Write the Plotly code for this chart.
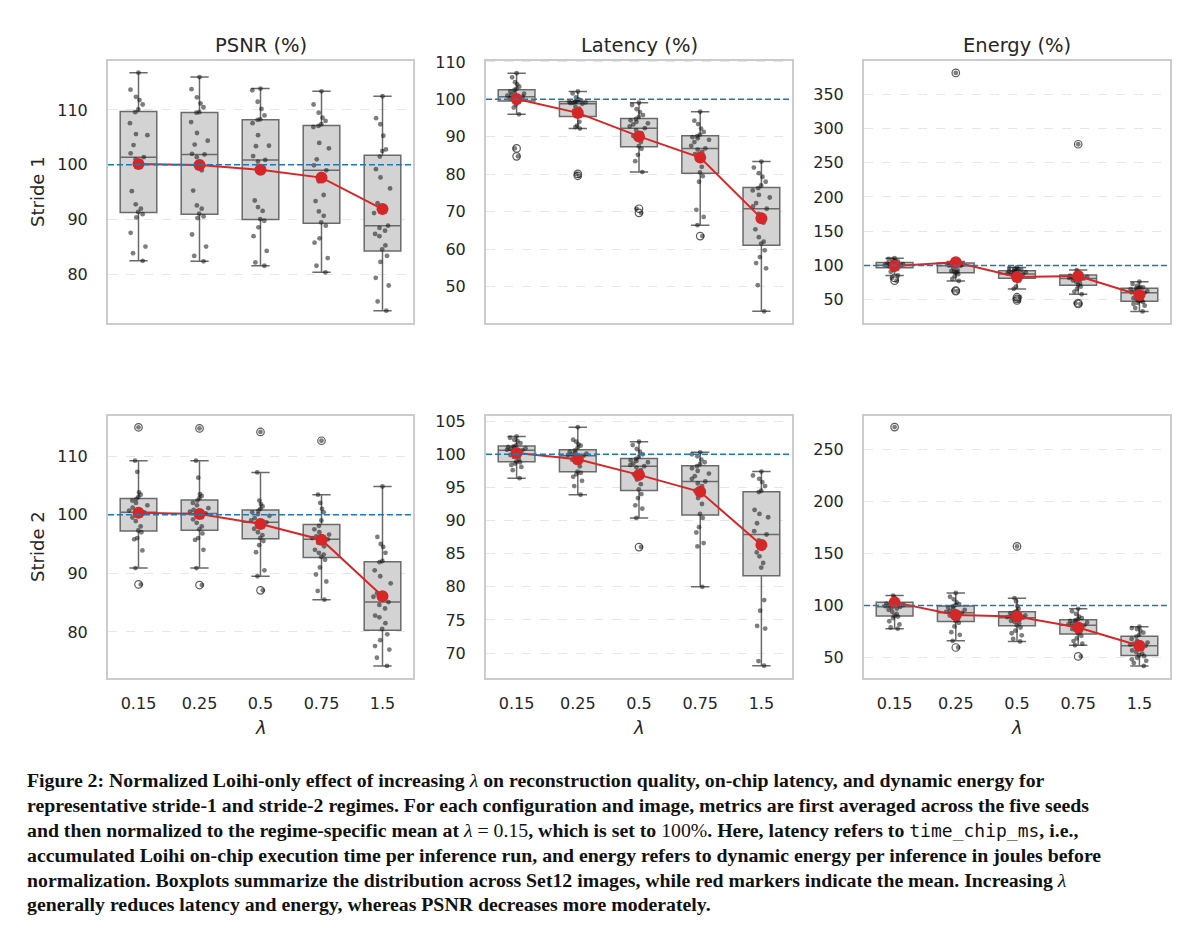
import numpy as np
import plotly.graph_objects as go
from plotly.subplots import make_subplots

lambdas = ["0.15", "0.25", "0.5", "0.75", "1.5"]
metric_titles = ["PSNR (%)", "Latency (%)", "Energy (%)"]
stride_labels = ["Stride 1", "Stride 2"]
baseline = 100

# per-image normalized values, one list per lambda
psnr_s1 = [
    [82.5, 83.9, 85.1, 87.6, 90.4, 91.0, 91.4, 92.0, 92.8, 95.2, 100.2, 101.0, 101.4,
     102.1, 103.6, 105.4, 105.6, 107.6, 109.6, 110.1, 111.0, 111.8, 112.4, 113.7, 116.8],
    [82.4, 83.4, 85.1, 87.3, 90.3, 90.6, 91.1, 92.0, 92.6, 95.3, 99.0, 101.4, 101.9,
     102.0, 103.7, 104.4, 105.8, 107.8, 109.5, 109.6, 110.5, 111.2, 112.3, 113.8, 116.0],
    [81.6, 82.2, 84.3, 87.0, 88.6, 89.8, 90.1, 91.6, 92.3, 93.5, 99.0, 100.6, 100.9,
     101.6, 103.4, 103.5, 105.4, 107.6, 108.2, 108.3, 109.0, 110.2, 111.5, 113.6, 113.9],
    [80.4, 81.6, 83.0, 85.8, 86.6, 88.9, 89.5, 90.7, 91.5, 93.4, 94.5, 97.0, 99.0,
     99.9, 101.0, 103.0, 104.0, 106.9, 107.1, 107.4, 108.0, 108.6, 109.5, 111.0, 113.4],
    [73.4, 75.1, 78.0, 79.4, 82.3, 83.4, 84.6, 85.3, 87.0, 87.4, 88.0, 88.5, 88.9,
     91.2, 93.0, 95.7, 97.7, 99.2, 101.5, 102.5, 102.8, 105.3, 107.4, 108.5, 112.5],
]
latency_s1 = [
    [84.8, 86.9, 96.0, 97.8, 98.6, 99.2, 99.7, 99.9, 100.1, 100.3, 100.4, 100.5, 100.7,
     101.0, 101.2, 101.5, 101.8, 102.1, 102.5, 102.8, 103.4, 104.0, 104.6, 105.9, 107.0],
    [79.6, 80.1, 92.2, 92.6, 93.0, 94.0, 95.9, 96.0, 96.4, 96.9, 97.5, 98.0, 98.8,
     99.0, 99.1, 99.2, 99.3, 99.35, 99.4, 99.5, 99.7, 100.0, 100.5, 101.6, 102.1],
    [69.7, 70.8, 80.6, 83.5, 85.2, 86.8, 87.5, 88.6, 89.4, 90.2, 91.0, 91.8, 92.3,
     92.8, 93.3, 93.6, 94.0, 94.4, 94.8, 95.3, 95.8, 96.6, 97.4, 98.5, 99.1],
    [63.5, 66.4, 68.6, 70.5, 78.0, 79.5, 80.5, 82.0, 84.0, 85.4, 86.0, 86.6, 86.9,
     87.6, 88.6, 89.2, 89.6, 89.9, 90.2, 90.6, 91.3, 92.2, 93.4, 94.3, 96.7],
    [43.4, 50.4, 54.9, 56.3, 57.9, 59.7, 61.5, 62.0, 63.2, 65.3, 67.1, 69.4, 70.8,
     71.4, 72.3, 73.8, 74.5, 75.7, 76.3, 77.0, 78.0, 79.3, 80.3, 81.8, 83.4],
]
energy_s1 = [
    [78.0, 82.0, 85.5, 91.0, 93.5, 95.8, 97.2, 98.0, 98.8, 99.4, 99.9, 100.3, 100.6,
     101.0, 101.5, 102.0, 102.6, 103.3, 104.4, 105.0, 106.0, 107.3, 108.5, 109.6, 110.7],
    [62.8, 63.5, 77.5, 80.5, 84.5, 87.5, 90.0, 90.5, 91.0, 92.0, 93.5, 96.0, 99.6,
     100.0, 100.4, 101.0, 101.8, 102.6, 103.5, 104.0, 104.6, 105.2, 105.5, 105.9, 380.8],
    [49.1, 51.5, 53.9, 66.0, 69.3, 78.0, 82.8, 84.0, 85.5, 86.2, 86.8, 87.2, 87.6,
     88.3, 89.5, 90.3, 91.0, 91.8, 92.4, 93.0, 93.8, 94.6, 95.5, 96.3, 97.2],
    [44.0, 45.2, 58.2, 62.0, 66.0, 69.5, 71.7, 74.0, 76.5, 78.5, 79.8, 80.6, 81.3,
     82.0, 82.8, 83.5, 84.3, 85.2, 86.2, 87.0, 88.0, 89.2, 90.5, 93.4, 276.8],
    [33.2, 38.0, 41.5, 44.0, 45.5, 47.0, 48.1, 49.0, 50.5, 52.5, 55.0, 57.5, 60.2,
     61.0, 62.0, 63.0, 64.3, 65.5, 66.9, 67.5, 68.0, 68.5, 70.5, 73.0, 76.5],
]
psnr_s2 = [
    [88.1, 90.9, 93.9, 95.8, 96.0, 97.0, 97.3, 98.0, 98.9, 99.5, 99.9, 100.2, 100.4,
     100.7, 101.2, 101.6, 102.0, 102.4, 102.7, 103.0, 103.4, 103.8, 107.3, 109.2, 114.9],
    [88.0, 90.9, 94.0, 95.7, 96.0, 96.8, 97.5, 98.0, 98.6, 99.2, 99.6, 99.9, 100.2,
     100.5, 100.8, 101.1, 101.6, 102.0, 102.4, 102.8, 103.2, 103.5, 106.3, 109.2, 114.7],
    [87.1, 89.5, 90.5, 93.6, 94.8, 95.5, 96.0, 96.5, 97.0, 97.6, 98.0, 98.4, 98.7,
     99.0, 99.4, 99.8, 100.1, 100.4, 100.7, 101.0, 101.4, 101.8, 102.4, 107.2, 114.1],
    [85.5, 87.0, 88.6, 89.8, 91.0, 92.3, 92.8, 93.2, 93.5, 94.0, 94.6, 95.2, 95.8,
     96.0, 96.3, 96.6, 97.0, 97.5, 98.1, 99.0, 100.4, 101.0, 102.0, 103.4, 112.6],
    [74.2, 75.6, 77.0, 77.6, 78.6, 79.6, 80.5, 81.5, 82.5, 82.8, 84.0, 84.6, 85.1,
     86.0, 86.6, 88.3, 89.5, 90.5, 91.9, 92.1, 93.5, 94.5, 95.0, 96.2, 104.8],
]
latency_s2 = [
    [96.4, 97.6, 98.1, 98.4, 98.6, 98.8, 98.9, 99.2, 99.6, 99.9, 100.2, 100.4, 100.6,
     100.7, 100.8, 100.9, 101.0, 101.1, 101.2, 101.4, 101.7, 102.0, 102.2, 102.5, 102.7],
    [93.9, 95.2, 96.0, 96.6, 97.0, 97.2, 97.4, 98.2, 98.8, 99.2, 99.4, 99.6, 99.8,
     99.9, 100.0, 100.1, 100.3, 100.4, 100.6, 101.0, 101.3, 101.5, 101.9, 102.2, 104.1],
    [86.0, 90.4, 91.8, 92.3, 93.4, 94.0, 94.7, 95.5, 96.2, 97.0, 97.6, 98.0, 98.2,
     98.4, 98.6, 98.8, 99.0, 99.1, 99.3, 99.6, 100.0, 100.4, 100.8, 101.4, 101.9],
    [80.0, 86.1, 86.6, 88.2, 89.0, 90.4, 91.0, 92.5, 93.4, 94.5, 95.2, 95.6, 95.9,
     96.3, 96.7, 97.1, 97.5, 97.9, 98.2, 98.5, 98.8, 99.2, 99.7, 100.0, 100.3],
    [68.1, 68.8, 73.7, 74.1, 76.4, 78.0, 82.9, 83.6, 84.6, 85.2, 86.2, 87.0, 87.9,
     88.4, 89.6, 90.5, 91.0, 91.6, 94.3, 94.5, 95.2, 95.8, 96.3, 96.8, 97.4],
]
energy_s2 = [
    [77.9, 79.0, 82.0, 85.0, 88.0, 89.5, 90.3, 92.0, 94.0, 96.0, 97.2, 98.0, 98.8,
     99.5, 100.0, 100.6, 101.2, 102.0, 102.9, 103.8, 105.0, 106.5, 107.8, 109.6, 271.2],
    [59.8, 66.2, 72.0, 74.5, 80.0, 83.5, 85.2, 87.0, 89.0, 90.5, 91.5, 92.3, 93.1,
     94.0, 95.0, 96.0, 97.0, 98.2, 99.4, 100.5, 101.5, 103.0, 106.0, 108.5, 112.1],
    [65.6, 68.0, 71.5, 73.5, 76.0, 79.0, 81.1, 83.0, 84.5, 85.5, 86.5, 87.5, 88.4,
     89.0, 89.8, 90.5, 91.5, 92.5, 93.7, 95.0, 97.0, 99.5, 104.0, 107.1, 156.8],
    [51.3, 62.0, 63.5, 66.0, 68.5, 71.0, 73.5, 75.0, 76.5, 77.5, 78.5, 80.0, 81.1,
     82.0, 83.0, 83.8, 84.5, 85.3, 86.1, 87.0, 88.0, 89.5, 92.0, 94.5, 96.9],
    [42.1, 45.0, 47.0, 48.5, 50.0, 51.5, 52.5, 54.0, 55.5, 57.0, 58.5, 60.0, 61.4,
     62.5, 63.5, 64.5, 66.0, 68.0, 70.3, 72.0, 74.0, 76.0, 77.5, 78.5, 79.8],
]

panels = [[psnr_s1, latency_s1, energy_s1], [psnr_s2, latency_s2, energy_s2]]

yticks = [
    [[80, 90, 100, 110], [50, 60, 70, 80, 90, 100, 110], [50, 100, 150, 200, 250, 300, 350]],
    [[80, 90, 100, 110], [70, 75, 80, 85, 90, 95, 100, 105], [50, 100, 150, 200, 250]],
]
yranges = [
    [[71.1, 119.0], [40.2, 110.35], [15.8, 398.7]],
    [[72.1, 116.9], [66.2, 105.85], [30.3, 282.3]],
]

MONO = "<span style=\"font-family:'DejaVu Sans Mono'; font-size:18px\">time_chip_ms</span>"
caption_lines = [
    "<b>Figure 2: Normalized Loihi-only effect of increasing </b><i>λ</i><b> on reconstruction quality, on-chip latency, and dynamic energy for</b>",
    "<b>representative stride-1 and stride-2 regimes. For each configuration and image, metrics are first averaged across the five seeds</b>",
    "<b>and then normalized to the regime-specific mean at </b><i>λ</i> = 0.15<b>, which is set to </b>100%<b>. Here, latency refers to </b>"
    + MONO + "<b>, i.e.,</b>",
    "<b>accumulated Loihi on-chip execution time per inference run, and energy refers to dynamic energy per inference in joules before</b>",
    "<b>normalization. Boxplots summarize the distribution across Set12 images, while red markers indicate the mean. Increasing </b><i>λ</i>",
    "<b>generally reduces latency and energy, whereas PSNR decreases more moderately.</b>",
]

W, H = 1200, 934
OFF = 8  # page body margin


def px(x):
    return (x - OFF) / W


def py(y):
    return 1 - (y - OFF) / H


xdom = [[px(108), px(413)], [px(486), px(792)], [px(864), px(1170)]]
ydom = [[py(318), py(53)], [py(676), py(411)]]

BOX_FILL = "#d3d3d3"
BOX_EDGE = "#6a6a6a"
TXT = "#262626"

fig = make_subplots(rows=2, cols=3)

for r in range(2):
    for c in range(3):
        data = panels[r][c]
        for i, lam in enumerate(lambdas):
            vals = data[i]
            fig.add_trace(go.Box(
                x=[lam] * len(vals), y=vals, width=0.6, quartilemethod="linear",
                boxpoints="outliers", pointpos=0, jitter=0,
                fillcolor=BOX_FILL, line=dict(color=BOX_EDGE, width=1.5), whiskerwidth=0.5,
                marker=dict(symbol="circle-open", size=7.5, color="#5a5a5a", line=dict(width=1.2)),
                showlegend=False, hoverinfo="skip"), row=r + 1, col=c + 1)
            fig.add_trace(go.Box(
                x=[lam] * len(vals), y=vals, width=0.6, quartilemethod="linear",
                boxpoints="all", pointpos=0, jitter=0.55,
                fillcolor="rgba(0,0,0,0)", line=dict(color="rgba(0,0,0,0)", width=0), whiskerwidth=0,
                marker=dict(size=4.8, color="rgba(20,20,20,0.55)"),
                showlegend=False, hoverinfo="skip"), row=r + 1, col=c + 1)
        means = [float(np.mean(v)) for v in data]
        fig.add_trace(go.Scatter(
            x=lambdas, y=means, mode="lines+markers",
            line=dict(color="#d62728", width=2), marker=dict(color="#d62728", size=12),
            showlegend=False, hoverinfo="skip"), row=r + 1, col=c + 1)
        fig.add_hline(y=baseline, line=dict(color="#1f77b4", dash="6px,3px", width=1.5),
                      row=r + 1, col=c + 1)
        fig.update_xaxes(
            domain=xdom[c], type="category", categoryorder="array", categoryarray=lambdas,
            range=[-0.5, 4.5], showgrid=False, showline=True, mirror=True,
            linecolor="#cccccc", linewidth=2, ticks="", showticklabels=(r == 1),
            tickfont=dict(size=16, color=TXT), ticklabelstandoff=10,
            row=r + 1, col=c + 1)
        fig.update_yaxes(
            domain=ydom[r], range=yranges[r][c], tickvals=yticks[r][c],
            showgrid=True, gridcolor="#e6e6e6", griddash="dash", gridwidth=1,
            zeroline=False, showline=True, mirror=True, linecolor="#cccccc", linewidth=2,
            ticks="", tickfont=dict(size=16, color=TXT), ticklabelstandoff=15,
            row=r + 1, col=c + 1)

annotations = []
for c, title in enumerate(metric_titles):
    xc = (xdom[c][0] + xdom[c][1]) / 2
    annotations.append(dict(text=title, x=xc, y=py(38), xref="paper", yref="paper",
                            xanchor="center", yanchor="middle",
                            showarrow=False, font=dict(size=19.5, color=TXT)))
    annotations.append(dict(text="<i>λ</i>", x=xc, y=py(726), xref="paper", yref="paper",
                            xanchor="center", yanchor="middle",
                            showarrow=False, font=dict(size=18, color=TXT)))
for r, lab in enumerate(stride_labels):
    yc = (ydom[r][0] + ydom[r][1]) / 2
    annotations.append(dict(text=lab, x=px(38), y=yc, xref="paper", yref="paper",
                            xanchor="center", yanchor="middle",
                            textangle=-90, showarrow=False, font=dict(size=18, color=TXT)))
for k, line in enumerate(caption_lines):
    annotations.append(dict(text=line, x=px(25), y=py(779 + 25 * k),
                            xref="paper", yref="paper", xanchor="left", yanchor="middle",
                            showarrow=False,
                            font=dict(family="Liberation Serif", size=19.8, color="#111111")))

fig.update_layout(
    width=W, height=H, margin=dict(l=0, r=0, t=0, b=0),
    paper_bgcolor="white", plot_bgcolor="white", boxmode="overlay",
    font=dict(family="DejaVu Sans", color=TXT),
    annotations=annotations,
)

fig.write_html("out.html")
